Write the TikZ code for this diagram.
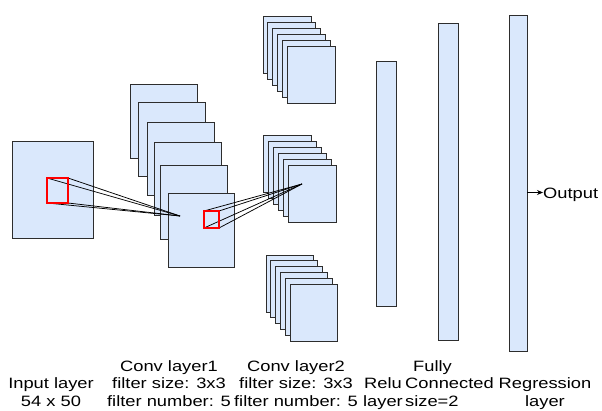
\documentclass[tikz,border=0pt]{standalone}
\usepackage{fontspec}
\setmainfont{Liberation Sans}[FakeStretch=1.22]
\usetikzlibrary{arrows.meta}
\definecolor{boxfill}{RGB}{218,232,252}
\definecolor{boxline}{RGB}{45,45,45}
\begin{document}
\begin{tikzpicture}[x=1pt,y=-1pt,
  lay/.style={draw=boxline, fill=boxfill, line width=0.9pt, inner sep=0pt, outer sep=0pt, anchor=north west},
  filt/.style={inner sep=0pt, outer sep=0pt, anchor=north west},
  redline/.style={draw=red, line width=1.3pt},
  conn/.style={draw=black, line width=0.75pt},
  lab/.style={inner sep=0pt, anchor=base, font=\fontsize{15}{17.5}\selectfont}]
\useasboundingbox (0,0) rectangle (602,411);
% input layer
\node[lay, minimum width=81pt, minimum height=97pt] (inp) at (12,141) {};
% conv layer 1
\node[lay, minimum width=67pt, minimum height=74pt] (ca) at (130,84) {};
\node[lay, minimum width=67pt, minimum height=74pt] (cb) at (138,102) {};
\node[lay, minimum width=67pt, minimum height=73pt] (cc) at (147,122) {};
\node[lay, minimum width=67pt, minimum height=73pt] (cd) at (154,142) {};
\node[lay, minimum width=67pt, minimum height=74pt] (ce) at (160,165) {};
\node[lay, minimum width=66pt, minimum height=74pt] (cf) at (168,193) {};
% conv layer 2 stacks
\foreach \i in {0,...,5} {
  \node[lay, minimum width=48pt, minimum height=57pt] (ta\i) at ({263+4.8*\i},{16+6*\i}) {};
}
\foreach \i in {0,...,5} {
  \node[lay, minimum width=48pt, minimum height=57pt] (tb\i) at ({263+5*\i},{135+6*\i}) {};
}
\foreach \i in {0,...,5} {
  \node[lay, minimum width=47pt, minimum height=57pt] (tc\i) at ({266+4.8*\i},{255+5.8*\i}) {};
}
% relu, fully connected, regression
\node[lay, minimum width=20pt, minimum height=245pt] (relu) at (376,61) {};
\node[lay, minimum width=20pt, minimum height=317pt] (fc) at (438,23) {};
\node[lay, minimum width=18pt, minimum height=336pt] (reg) at (509,15) {};
% filter windows
\node[filt, minimum width=21pt, minimum height=25pt] (f1) at (47,178) {};
\node[filt, minimum width=15pt, minimum height=17pt] (f2) at (204,211) {};
% connection lines
\coordinate (p1) at (180,216);
\coordinate (p2) at (302,184);
\foreach \c in {north west, north east, south west, south east} {
  \draw[conn] (f1.\c) -- (p1);
  \draw[conn] (f2.\c) -- (p2);
}
\draw[redline] (f1.north west) rectangle (f1.south east);
\draw[redline] (f2.north west) rectangle (f2.south east);
% output
\node[lab, anchor=base west] (out) at (543,198.5) {Output};
\coordinate (oarr) at ([yshift=6pt]out.base west);
\draw[conn, -{Stealth[length=6pt,width=5pt]}] (reg.east |- oarr) -- (oarr);
% labels
\node[lab] (linp) at (51,388.5) {\begin{tabular}[t]{@{}c@{}}Input layer\\54 x 50\end{tabular}};
\node[lab] (lc1) at (169,371) {\begin{tabular}[t]{@{}c@{}}Conv layer1\\filter size: 3x3\\filter number: 5\end{tabular}};
\node[lab] (lc2) at (296,371) {\begin{tabular}[t]{@{}c@{}}Conv layer2\\filter size: 3x3\\filter number: 5\end{tabular}};
\node[lab] (lrelu) at (383,388.5) {\begin{tabular}[t]{@{}c@{}}Relu\\layer\end{tabular}};
\node[lab, anchor=base west] (lfc) at (405,371) {\begin{tabular}[t]{@{}l@{}}\hspace*{8pt}Fully\\Connected\\size=2\end{tabular}};
\node[lab] (lreg) at (545,388.5) {\begin{tabular}[t]{@{}c@{}}Regression\\layer\end{tabular}};
\end{tikzpicture}
\end{document}
